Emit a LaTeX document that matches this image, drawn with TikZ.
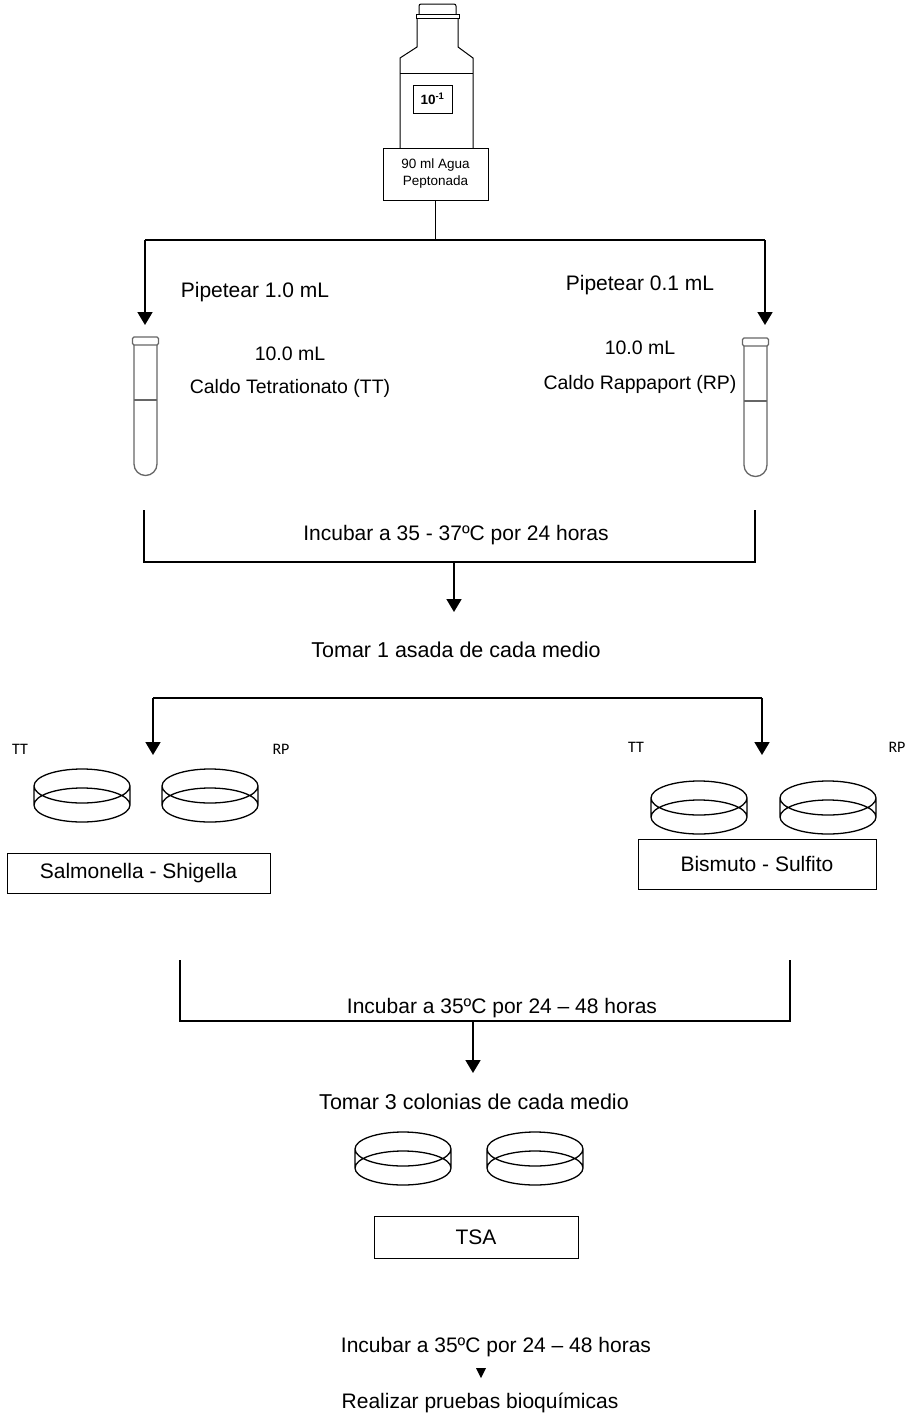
\documentclass[tikz,border=0pt]{standalone}
\usepackage{fontspec}
\setmainfont{Liberation Sans}
\newfontfamily\calibri{Carlito}
\usetikzlibrary{arrows.meta,positioning}
\tikzset{
  arr/.style={line width=1.8pt, -{Triangle[width=15pt,length=13pt]}},
  rule/.style={line width=1.2pt},
  txt/.style={font=\fontsize{21}{25}\selectfont, inner sep=0pt},
  caldo/.style={font=\fontsize{19.5}{23}\selectfont, inner sep=0pt},
  big/.style={font=\fontsize{21.5}{26}\selectfont, inner sep=0pt},
  tag/.style={font=\calibri\fontsize{16}{19}\selectfont, inner sep=0pt},
  medium/.style={draw, line width=1pt, font=\fontsize{21}{25}\selectfont},
  dish/.pic={
    \draw[line width=1.3pt] (0,0) ellipse [x radius=48, y radius=17]
      (0,19) ellipse [x radius=48, y radius=17]
      (-48,0) -- (-48,19) (48,0) -- (48,19);
  },
  tube/.pic={
    \draw[line width=1.3pt, black!60, rounded corners=1.5] (-13,0) rectangle (13,8);
    \draw[line width=1.3pt, black!60] (-11.5,8) -- (-11.5,127)
      arc [start angle=180, end angle=0, radius=11.5] -- (11.5,8);
    \draw[line width=1.3pt, black!60] (-11.5,63) -- (11.5,63);
  }
}

\begin{document}
\begin{tikzpicture}[x=1pt, y=-1pt]
	\useasboundingbox (0,0) rectangle (912,1428);
	% flask with peptone water
	\draw[line width=1pt, rounded corners=2] (419,14) -- (419,4) -- (456,4) -- (456,14);
	\draw[line width=1pt] (416,14) rectangle (459,18);
	\draw[line width=1pt] (400,148) -- (400,58) -- (417,47) -- (417,18)
		(458,18) -- (458,47) -- (473,58) -- (473,148);
	\draw[line width=1pt] (400,73) -- (473,73);
	\node[draw, line width=1pt, minimum width=39pt, minimum height=28pt,
		font=\bfseries\fontsize{13.5}{15}\selectfont] (dil) at (432.5,99) {10\textsuperscript{-1}};
	\node[draw, line width=1pt, minimum width=105pt, minimum height=52pt, align=center,
		font=\fontsize{13.5}{17}\selectfont] (flask) at (435.5,174) {90 ml Agua\\Peptonada};
	%
	\coordinate (fork) at (flask.south |- 0,240);
	\coordinate (forkL) at (145,240);
	\coordinate (forkR) at (765,240);
	\coordinate (tubeL) at (145,325);
	\coordinate (tubeR) at (765,325);
	\draw[rule] (flask.south) -- (fork);
	\draw[rule] (forkL) -- (forkR);
	\draw[arr] (forkL) -- (tubeL);
	\draw[arr] (forkR) -- (tubeR);
	\node[txt] (pipL) at (255,292) {Pipetear 1.0 mL};
	\node[txt] (pipR) at (640,285) {Pipetear 0.1 mL};
	% broth tubes
	\pic at (145.5,337) {tube};
	\pic at (755.5,338) {tube};
	\node[caldo] (volL) at (290,354) {10.0 mL};
	\node[caldo, below=34pt of volL.center, anchor=center] (tt) {Caldo Tetrationato (TT)};
	\node[caldo] (volR) at (640,348) {10.0 mL};
	\node[caldo, below=36pt of volR.center, anchor=center] (rp) {Caldo Rappaport (RP)};
	% first incubation
	\draw[rule] (144,510) -- (144,562) -- (755,562) -- (755,510);
	\node[txt] (inc1) at (456,535) {Incubar a 35 - 37ºC por 24 horas};
	\coordinate (mid1) at (454,562);
	\node[big] (take1) at (456,650) {Tomar 1 asada de cada medio};
	\draw[arr] (mid1) -- (454,612);
	% streaking on plates
	\coordinate (forkL2) at (153,698);
	\coordinate (forkR2) at (762,698);
	\draw[rule] (forkL2) -- (forkR2);
	\draw[arr] (forkL2) -- (153,755);
	\draw[arr] (forkR2) -- (762,755);
	\node[tag] (ttL) at (20,749) {TT};
	\node[tag] (rpL) at (281,749) {RP};
	\node[tag] (ttR) at (636,747) {TT};
	\node[tag] (rpR) at (897,747) {RP};
	\pic at (82,786) {dish};
	\pic at (210,786) {dish};
	\pic at (699,798) {dish};
	\pic at (828,798) {dish};
	\node[medium, minimum width=263pt, minimum height=40pt] (ss) at (138.5,873) {Salmonella - Shigella};
	\node[medium, minimum width=238pt, minimum height=50pt] (bs) at (757,864) {Bismuto - Sulfito};
	% second incubation
	\draw[rule] (180,960) -- (180,1021) -- (790,1021) -- (790,960);
	\node[txt, anchor=base] (inc2) at (502,1013) {Incubar a 35ºC por 24 – 48 horas};
	\coordinate (mid2) at (473,1021);
	\node[big] (take3) at (474,1102) {Tomar 3 colonias de cada medio};
	\draw[arr] (mid2) -- (473,1073);
	\pic at (403,1149) {dish};
	\pic at (535,1149) {dish};
	\node[medium, minimum width=204pt, minimum height=42pt] (tsa) at (476,1237) {TSA};
	% last step
	\node[txt] (inc3) at (496,1347) {Incubar a 35ºC por 24 – 48 horas};
	\node[txt] (bioq) at (480,1403) {Realizar pruebas bioquímicas};
	\fill (476,1368) -- (486,1368) -- (481,1378) -- cycle;
\end{tikzpicture}
\end{document}
